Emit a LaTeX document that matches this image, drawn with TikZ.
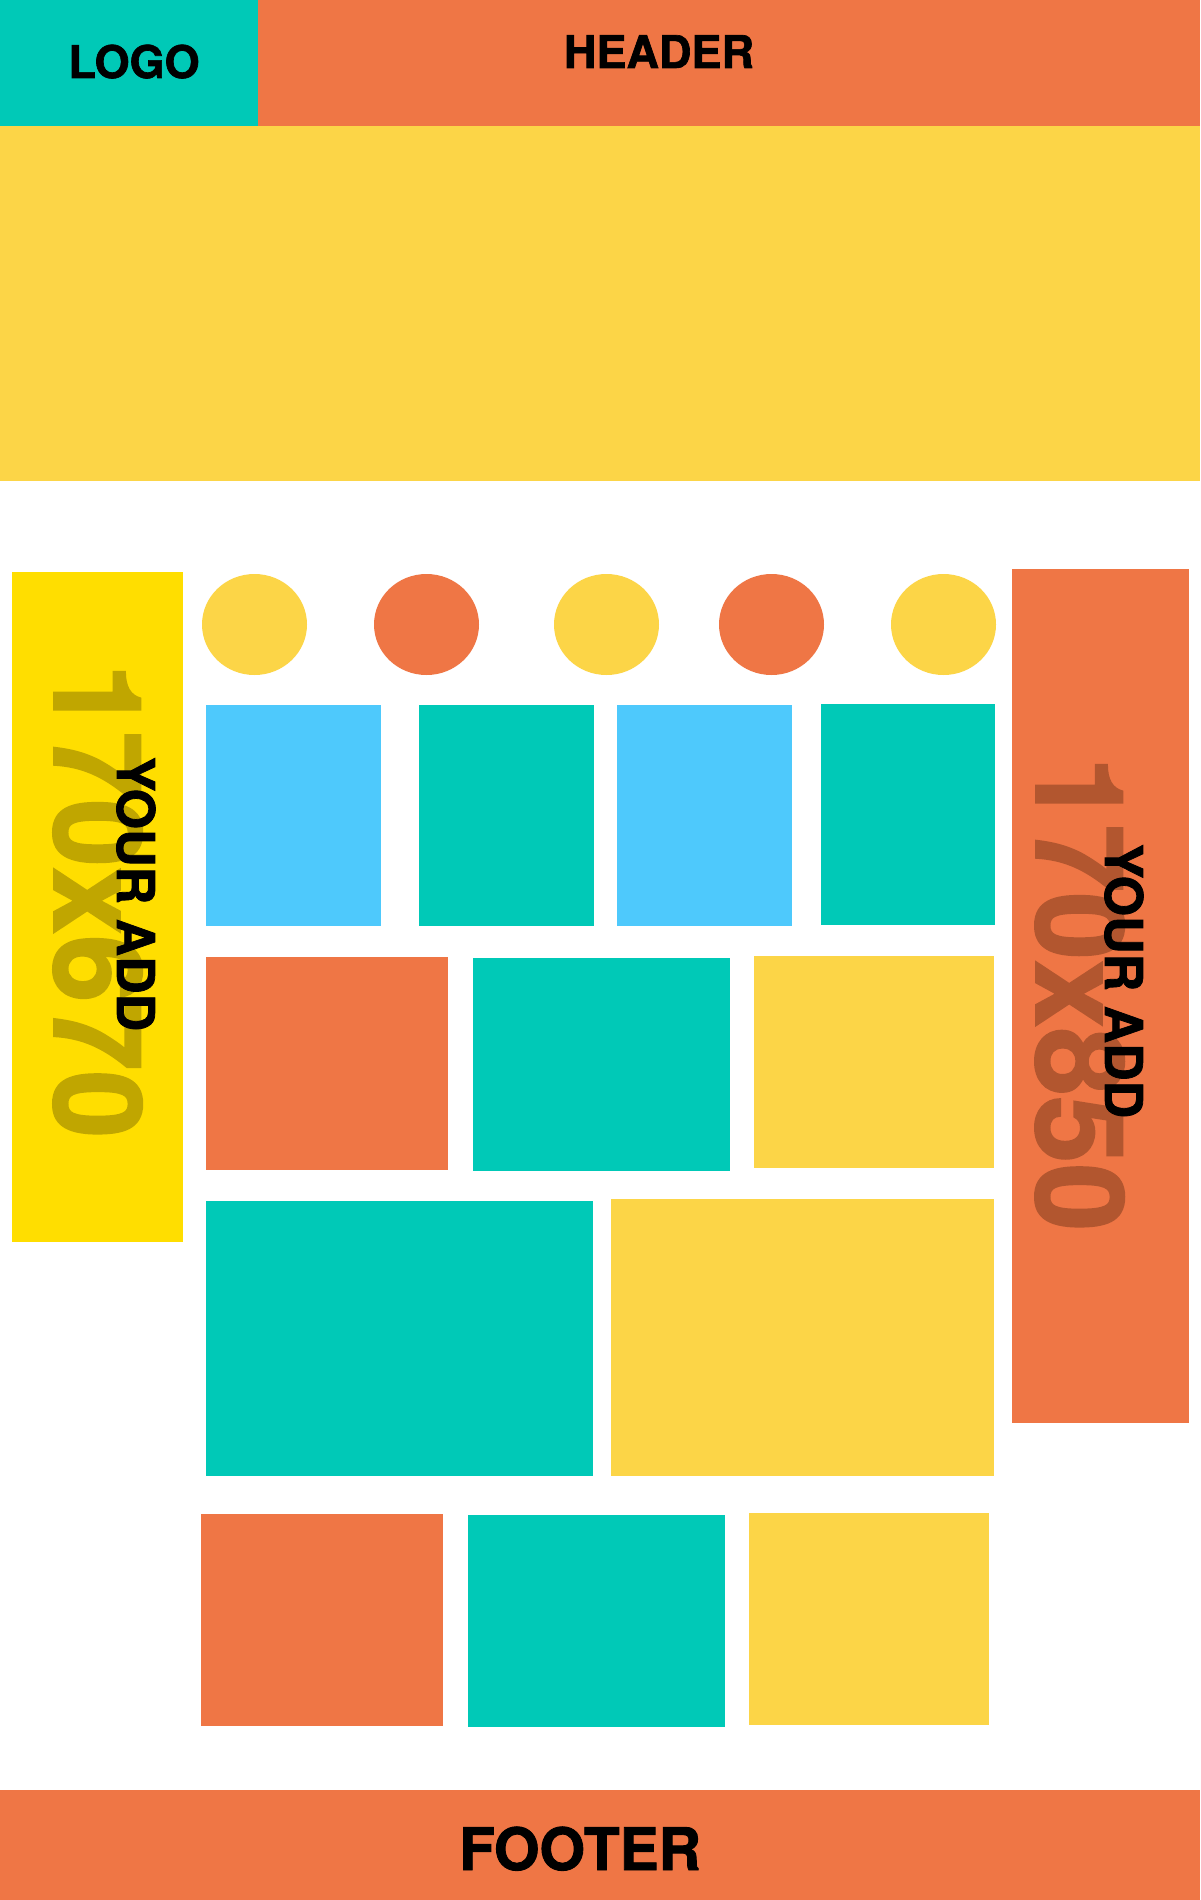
\documentclass[tikz,border=0pt]{standalone}
\usepackage{fontspec}
\setmainfont{TeX Gyre Heros}
\newfontface\heavyfont{TeX Gyre Heros Bold}[FakeBold=1.5]
\definecolor{teal1}{HTML}{00C9B7}
\definecolor{orange1}{HTML}{EF7645}
\definecolor{yellow1}{HTML}{FCD547}
\definecolor{blue1}{HTML}{4EC9FC}
\definecolor{adyellow}{HTML}{FFDE00}
\definecolor{darkyellow}{HTML}{C0A600}
\definecolor{darkorange}{HTML}{B2562F}
\tikzset{
  lbl/.style={inner sep=0pt, anchor=base, text=black, font=\bfseries},
  vlbl/.style={inner sep=0pt, anchor=base, rotate=-90, font=\bfseries},
}
\begin{document}
\begin{tikzpicture}[x=1pt,y=-1pt]
\useasboundingbox (0,0) rectangle (1200,1900);
\fill[white] (0,0) rectangle (1200,1900);
% header
\fill[teal1] (0,0) rectangle (258,126);
\fill[orange1] (258,0) rectangle (1200,126);
\node[lbl, font=\heavyfont\fontsize{45}{45}\selectfont] (logo) at (134,78) {LOGO};
\node[lbl, font=\heavyfont\fontsize{45}{45}\selectfont] (header) at (659,68) {HEADER};
% banner
\fill[yellow1] (0,126) rectangle (1200,481);
% left ad
\fill[adyellow] (12,572) rectangle (183,1242);
\node[vlbl, text=darkyellow, font=\heavyfont\fontsize{122}{122}\selectfont] (leftsize) at (54,901) {170x670};
\node[vlbl, text=black, font=\heavyfont\fontsize{52}{52}\selectfont] (leftad) at (117,894) {YOUR ADD};
% right ad
\fill[orange1] (1012,569) rectangle (1189,1423);
\node[vlbl, text=darkorange, font=\heavyfont\fontsize{122}{122}\selectfont] (rightsize) at (1036,994) {170x850};
\node[vlbl, text=black, font=\heavyfont\fontsize{52}{52}\selectfont] (rightad) at (1105,981) {YOUR ADD};
% circles
\fill[yellow1] (254.5,624.5) ellipse [x radius=52.5, y radius=50.5];
\fill[orange1] (426.5,624.5) ellipse [x radius=52.5, y radius=50.5];
\fill[yellow1] (606.5,624.5) ellipse [x radius=52.5, y radius=50.5];
\fill[orange1] (771.5,624.5) ellipse [x radius=52.5, y radius=50.5];
\fill[yellow1] (943.5,624.5) ellipse [x radius=52.5, y radius=50.5];
% row 1
\fill[blue1] (206,705) rectangle (381,926);
\fill[teal1] (419,705) rectangle (594,926);
\fill[blue1] (617,705) rectangle (792,926);
\fill[teal1] (821,704) rectangle (995,925);
% row 2
\fill[orange1] (206,957) rectangle (448,1170);
\fill[teal1] (473,958) rectangle (730,1171);
\fill[yellow1] (754,956) rectangle (994,1168);
% row 3
\fill[teal1] (206,1201) rectangle (593,1476);
\fill[yellow1] (611,1199) rectangle (994,1476);
% row 4
\fill[orange1] (201,1514) rectangle (443,1726);
\fill[teal1] (468,1515) rectangle (725,1727);
\fill[yellow1] (749,1513) rectangle (989,1725);
% footer
\fill[orange1] (0,1790) rectangle (1200,1900);
\node[lbl, font=\heavyfont\fontsize{58.5}{58.5}\selectfont] (footer) at (580,1870) {FOOTER};
\end{tikzpicture}
\end{document}
